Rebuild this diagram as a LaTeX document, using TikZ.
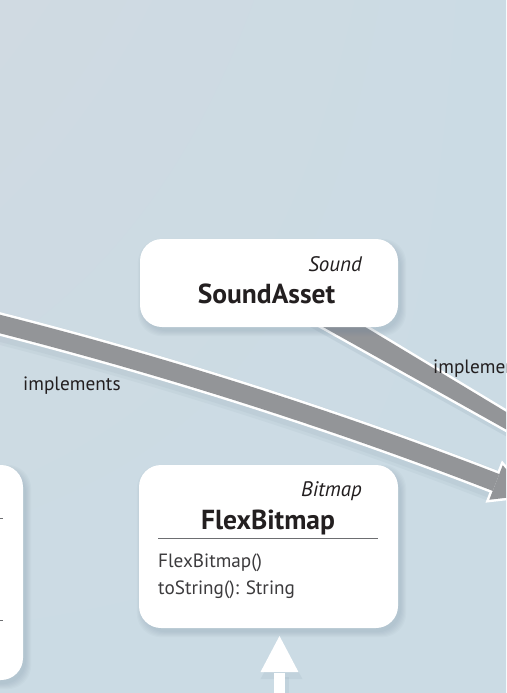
\documentclass[tikz,border=0pt]{standalone}
\usepackage{fontspec}
\setmainfont{PT Sans}
\usetikzlibrary{calc,backgrounds,shadings}
\pgfdeclarelayer{back}
\pgfsetlayers{back,background,main}
\definecolor{bg}{HTML}{CBDBE4}
\definecolor{bgl}{HTML}{D0DAE2}
\definecolor{arrowgray}{HTML}{939598}
\definecolor{ink}{HTML}{231F20}
\definecolor{memberink}{HTML}{3C3B3D}
\definecolor{rulec}{HTML}{6D6E71}
\definecolor{shadowc}{HTML}{6F8698}
\begin{document}
\begin{tikzpicture}[x=1pt,y=-1pt,
  classbox/.style={fill=white, rounded corners=22pt, inner sep=0pt},
  title/.style={font=\fontsize{27.5}{31}\selectfont\bfseries, text=ink, inner sep=0pt, anchor=base},
  pkg/.style={font=\fontsize{21}{24}\selectfont\itshape, text=ink, inner sep=0pt, anchor=base east},
  member/.style={font=\fontsize{19.2}{23}\selectfont, text=memberink, inner sep=0pt, anchor=base west},
  lbl/.style={font=\fontsize{19.3}{23}\selectfont, text=ink, inner sep=0pt, anchor=base west},
  shaftw/.style={draw=white, line width=23pt},
  shaftg/.style={draw=arrowgray, line width=18pt},
  rim/.style={draw=white, fill=white, line width=5pt, line join=miter},
  gfill/.style={fill=arrowgray},
  sepline/.style={draw=rulec, line width=1pt},
  softshade/.style={fill=shadowc, opacity=0.045, rounded corners=24pt},
]
\useasboundingbox (0,0) rectangle (506,693);
\clip (0,0) rectangle (506,693);

% class boxes
\node[classbox, minimum width=258pt, minimum height=88pt] (sound) at (269,283) {};
\node[classbox, minimum width=259pt, minimum height=163pt] (flex) at (268.5,546.5) {};
\node[classbox, minimum width=263pt, minimum height=215pt] (leftbox) at (-108.5,572.5) {};

% texts
\node[pkg] (soundpkg) at (362,271) {Sound};
\node[title] (soundname) at (266.5,303) {SoundAsset};
\node[pkg] (flexpkg) at (362,496) {Bitmap};
\node[title] (flexname) at (268,529) {FlexBitmap};
\coordinate (flexruleL) at (158,538);
\coordinate (flexruleR) at (378,538);
\draw[sepline] (flexruleL) -- (flexruleR);
\node[member] (m1) at (158,567) {FlexBitmap()};
\node[member] (m2) at (158,594) {toString(): String};
\coordinate (lrule1L) at (-220,518);
\coordinate (lrule1R) at (3,518);
\coordinate (lrule2L) at (-220,620);
\coordinate (lrule2R) at (3,620);
\draw[sepline] (lrule1L) -- (lrule1R);
\draw[sepline] (lrule2L) -- (lrule2R);
\node[lbl] (impl1) at (23,390) {implements};
\node[lbl] (impl2) at (433,373) {implements};

% connector end points outside the view
\coordinate (lsrc) at (-30,316.5);
\coordinate (lhead) at (496,482.5);
\coordinate (ltip) at (528.6,495.2);
\coordinate (sndend) at (615,484);
\coordinate (wsrc) at (279.5,720);
\coordinate (wtip) at (279.5,636);

% soft box shadows
\begin{pgfonlayer}{background}
  \clip (0,0) rectangle (506,693);
  \foreach \bx in {sound,flex,leftbox}{
    \foreach \k in {1,...,6}{
      \fill[softshade] ($(\bx.north west)+(4-\k,6-\k)$) rectangle ($(\bx.south east)+(2+\k,3+\k)$);
    }
  }
\end{pgfonlayer}

\begin{pgfonlayer}{back}
  \clip (0,0) rectangle (506,693);
  \shade[upper left=bgl, upper right=bg, lower left=bg, lower right=bg] (0,0) rectangle (506,693);
  % soft shadows of the connectors
  \begin{scope}[transform canvas={shift={(2,5)}}]
    \draw[shadowc, opacity=0.07, line width=32pt] (lsrc) .. controls (150,361) and (330,418) .. (lhead);
    \draw[shadowc, opacity=0.08, line width=26pt] (lsrc) .. controls (150,361) and (330,418) .. (lhead);
    \fill[shadowc, opacity=0.12] ($(sound.center)!15pt!90:(sndend)$) -- ($(sndend)!8pt!-90:(sound.center)$)
       -- ($(sndend)!8pt!90:(sound.center)$) -- ($(sound.center)!15pt!-90:(sndend)$) -- cycle;
    \fill[shadowc, opacity=0.10] ($(wtip)+(-21,38)$) -- (wtip) -- ($(wtip)+(21,38)$) -- cycle;
    \fill[shadowc, opacity=0.10] ($(wtip)+(-7,36)$) rectangle ($(wsrc)+(7,0)$);
  \end{scope}
  % white rims
  \draw[shaftw] (lsrc) .. controls (150,361) and (330,418) .. (lhead);
  \path[rim] ($(lhead)!18.5pt!90:(ltip)$) -- (ltip) -- ($(lhead)!18.5pt!-90:(ltip)$) -- cycle;
  \path[rim] ($(sound.center)!12pt!90:(sndend)$) -- ($(sndend)!5.5pt!-90:(sound.center)$)
     -- ($(sndend)!5.5pt!90:(sound.center)$) -- ($(sound.center)!12pt!-90:(sndend)$) -- cycle;
  % gray bodies
  \draw[shaftg] (lsrc) .. controls (150,361) and (330,418) .. (lhead);
  \path[gfill] ($(lhead)!18.5pt!90:(ltip)$) -- (ltip) -- ($(lhead)!18.5pt!-90:(ltip)$) -- cycle;
  \path[gfill] ($(sound.center)!12pt!90:(sndend)$) -- ($(sndend)!5.5pt!-90:(sound.center)$)
     -- ($(sndend)!5.5pt!90:(sound.center)$) -- ($(sound.center)!12pt!-90:(sndend)$) -- cycle;
  % white inheritance arrow into FlexBitmap
  \draw[white, line width=11pt] (wsrc) -- ($(wtip)+(0,37)$);
  \fill[white] ($(wtip)+(-19,36)$) -- (wtip) -- ($(wtip)+(19,36)$) -- cycle;
\end{pgfonlayer}
\end{tikzpicture}
\end{document}
